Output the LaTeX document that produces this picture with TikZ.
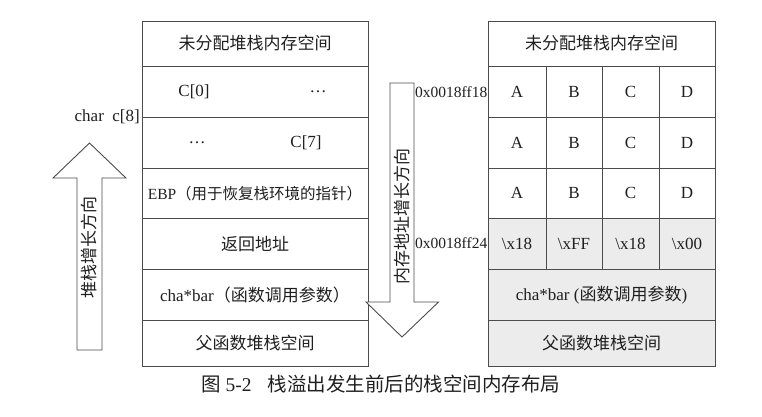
\documentclass[tikz,border=0pt]{standalone}
\usepackage{fontspec}
\setmainfont{Liberation Serif}
\newfontfamily\cjk{Noto Sans CJK SC}
\newcommand\zh[1]{{\cjk #1}}
\definecolor{linecol}{gray}{0.3}
\definecolor{txtcol}{gray}{0.12}
\definecolor{fillgray}{gray}{0.925}
\begin{document}
\begin{tikzpicture}[x=1pt,y=-1pt,
  every node/.style={text=txtcol, inner sep=0pt},
  cellbox/.style={draw=linecol, line width=0.9pt, inner sep=0pt,
    font=\fontsize{17}{20}\selectfont},
  celltext/.style={font=\fontsize{17}{20}\selectfont},
  label/.style={font=\fontsize{15.5}{18}\selectfont},
  arrowline/.style={draw=linecol, line width=0.9pt, fill=white, line join=miter},
  rotlabel/.style={rotate=90, font=\fontsize{17}{20}\selectfont}]
\useasboundingbox (0,0) rectangle (762,416);

% ---------- left stack: before overflow ----------
\node[cellbox, minimum width=226, minimum height=45] (L1) at (255,43.5) {\zh{未分配堆栈内存空间}};
\node[cellbox, minimum width=226, minimum height=51] (L2) at (255,91.5) {};
\node[cellbox, minimum width=226, minimum height=51] (L3) at (255,142.5) {};
\node[cellbox, minimum width=226, minimum height=50.5] (L4) at (255,193.25) {};
\node[cellbox, minimum width=226, minimum height=51] (L5) at (255,244) {\zh{返回地址}};
\node[cellbox, minimum width=226, minimum height=51] (L6) at (255,295) {cha*bar\zh{（函数调用参数）}};
\node[cellbox, minimum width=226, minimum height=45.5] (L7) at (255,343.25) {\zh{父函数堆栈空间}};
\node[celltext] (c0) at (194,91.5) {C[0]};
\node[celltext] (dotsA) at (318,91.5) {…};
\node[celltext] (dotsB) at (197,142.5) {…};
\node[celltext] (c7) at (306,142.5) {C[7]};
\node[font=\fontsize{15.5}{18}\selectfont] (ebp) at (L4) {EBP\zh{（用于恢复栈环境的指针）}};
\node[celltext, anchor=east] (arr) at (140,117) {char\ \ c[8]};

% ---------- right stack: after overflow ----------
\fill[fillgray] (488,218.5) rectangle (715,366);
\node[cellbox, minimum width=227, minimum height=45] (R1) at (601.5,43.5) {\zh{未分配堆栈内存空间}};
\foreach \r/\yc/\h/\a/\b/\c/\d in {2/91.5/51/A/B/C/D, 3/142.5/51/A/B/C/D, 4/193.25/50.5/A/B/C/D,
    5/244/51/\textbackslash x18/\textbackslash xFF/\textbackslash x18/\textbackslash x00}{
  \node[cellbox, minimum width=58, minimum height=\h] (R\r a) at (517,\yc) {\a};
  \node[cellbox, minimum width=56, minimum height=\h] (R\r b) at (574,\yc) {\b};
  \node[cellbox, minimum width=57, minimum height=\h] (R\r c) at (630.5,\yc) {\c};
  \node[cellbox, minimum width=56, minimum height=\h] (R\r d) at (687,\yc) {\d};
}
\node[cellbox, minimum width=227, minimum height=51] (R6) at (601.5,295) {cha*bar (\zh{函数调用参数})};
\node[cellbox, minimum width=227, minimum height=45.5] (R7) at (601.5,343.25) {\zh{父函数堆栈空间}};
\node[label, anchor=west] (addrA) at (415,92) {0x0018ff18};
\node[label, anchor=west] (addrB) at (415,243.5) {0x0018ff24};

% ---------- direction arrows ----------
\draw[arrowline] (77,350) -- (77,178) -- (53,178) -- (89.5,143) -- (126,178) -- (102,178) -- (102,350) -- cycle;
\node[rotlabel] (upText) at (89.5,247) {\zh{堆栈增长方向}};
\draw[arrowline] (390,83) -- (390,302) -- (366,302) -- (402,337) -- (438.5,302) -- (414,302) -- (414,83) -- cycle;
\node[rotlabel] (downText) at (402,216) {\zh{内存地址增长方向}};

% ---------- caption ----------
\node[anchor=west, font=\fontsize{19.5}{23}\selectfont] (caption) at (201,384)
  {\zh{图} 5-2\hspace{16pt}\zh{栈溢出发生前后的栈空间内存布局}};
\end{tikzpicture}
\end{document}
